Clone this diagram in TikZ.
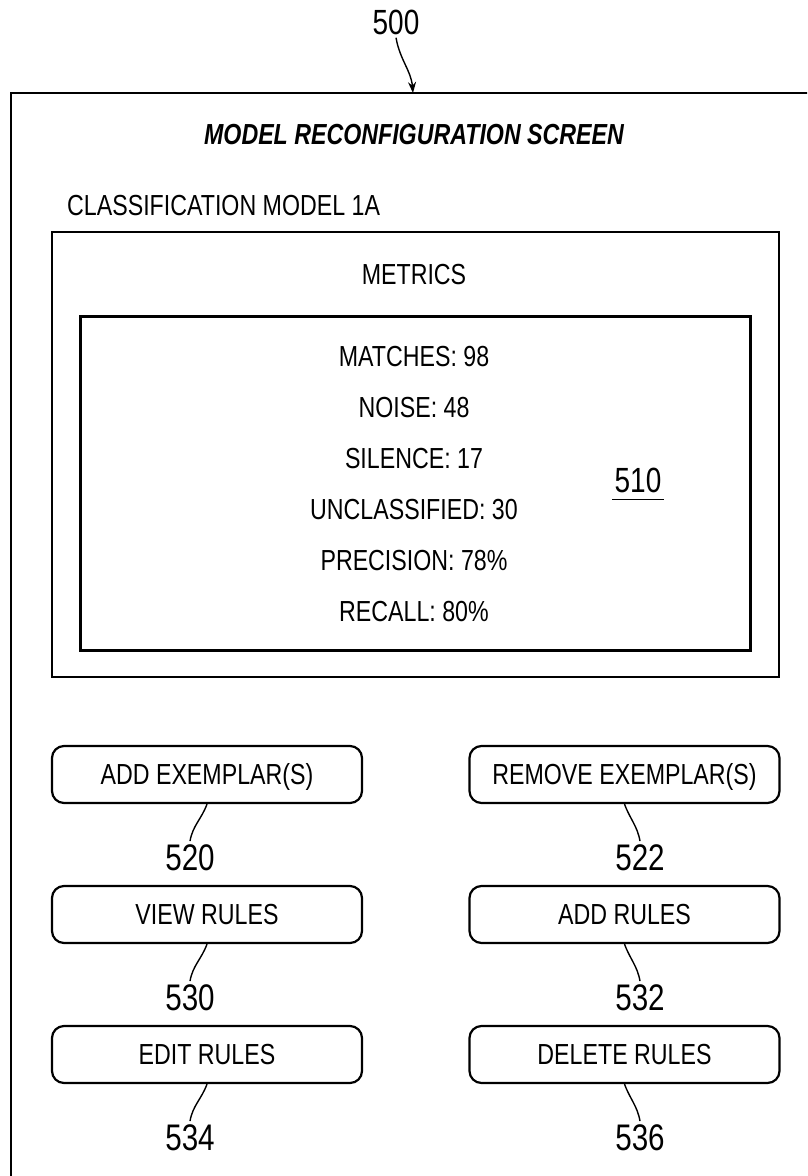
\documentclass[tikz,border=0pt]{standalone}
\usepackage{fontspec}
\setmainfont{Liberation Sans}[FakeStretch=0.8]
\usetikzlibrary{arrows.meta}

\tikzset{
  txt/.style={inner sep=0pt, font=\fontsize{29}{34}\selectfont,
      text height=20.8pt, text depth=0pt},
  refnum/.style={inner sep=3pt, font=\fontsize{37}{42}\selectfont,
      text height=26.5pt, text depth=0pt},
  btn/.style={txt, draw=black, line width=2.2pt, rounded corners=12pt,
      minimum width=310pt, minimum height=57pt},
  leader/.style={black, line width=1.4pt},
}

\begin{document}
\begin{tikzpicture}[x=1pt, y=1pt]

  \useasboundingbox (0, 0) rectangle (807, -1176);
  \clip (0, 0) rectangle (807, -1176);

  \draw[black, line width=2pt] (11, -1200) -- (11, -93) -- (820, -93);
  \coordinate (F) at (413, -93);

  \node[refnum, font=\fontsize{35}{40}\selectfont, text height=25pt] (l500)
  at (396, -22) {500};
  \draw[leader, -{Stealth[length=11pt, width=8pt]}] (l500.south)
  to[out=-80, in=95] (F);

  \node[txt, font=\fontsize{29}{34}\selectfont\bfseries\itshape] (title)
  at (414, -134) {MODEL RECONFIGURATION SCREEN};
  \node[txt, anchor=west] (cls) at (67, -205) {CLASSIFICATION MODEL 1A};

  \draw[black, line width=2pt] (52, -232) rectangle (779, -677);
  \node[txt] (met) at (414, -274) {METRICS};
  \draw[black, line width=3pt] (80, -316) rectangle (750, -650);

  \foreach \t [count=\i] in {MATCHES: 98, NOISE: 48, SILENCE: 17,
      UNCLASSIFIED: 30, PRECISION: 78\%, RECALL: 80\%}{
      \node[txt] (m\i) at (414, -305 - 51*\i) {\t};
    }

  \node[refnum, font=\fontsize{35}{40}\selectfont, text height=25pt,
    inner sep=0pt] (l510) at (638, -480) {510};
  \draw[leader] ([xshift=-2pt, yshift=-7pt]l510.south west)
  -- ([xshift=2pt, yshift=-7pt]l510.south east);

  \foreach \n/\t/\y in {520/ADD EXEMPLAR(S)/774.5, 530/VIEW RULES/914.5,
      534/EDIT RULES/1054.5}{
      \node[btn] (b\n) at (207, -\y) {\t};
      \node[refnum] (l\n) at (190, -\y - 83) {\n};
      \draw[leader] (b\n.south) to[out=-110, in=80] (l\n.north);
    }

  \foreach \n/\t/\y in {522/REMOVE EXEMPLAR(S)/774.5, 532/ADD RULES/914.5,
      536/DELETE RULES/1054.5}{
      \node[btn] (b\n) at (624.5, -\y) {\t};
      \node[refnum] (l\n) at (640, -\y - 83) {\n};
      \draw[leader] (b\n.south) to[out=-70, in=100] (l\n.north);
    }

\end{tikzpicture}
\end{document}
